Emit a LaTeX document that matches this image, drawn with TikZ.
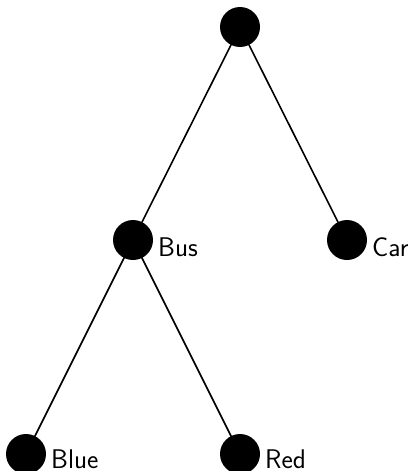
\documentclass[tikz,border=0pt]{standalone}
\usepackage{fontspec}
\usetikzlibrary{calc}
\begin{document}
\begin{tikzpicture}[x=1pt,y=-1pt,
  dot/.style={circle,fill=black,minimum size=40pt,inner sep=0pt},
  edge/.style={line width=1.6pt},
  lbl/.style={anchor=base west,inner sep=0pt,font=\fontsize{27}{32}\selectfont\sffamily}]
\useasboundingbox (0,0) rectangle (412,471);
\coordinate (r) at (240,27);
\coordinate (bus) at (133,240);
\coordinate (car) at (347,240);
\coordinate (blue) at (26,454);
\coordinate (red) at (240,454);
\draw[edge] (r) -- (bus);
\draw[edge] (r) -- (car);
\draw[edge] (bus) -- (blue);
\draw[edge] (bus) -- (red);
\node[dot] (nr) at (r) {};
\node[dot] (nbus) at (bus) {};
\node[dot] (ncar) at (car) {};
\node[dot] (nblue) at (blue) {};
\node[dot] (nred) at (red) {};
\node[lbl] (lbus) at ($(bus)+(25,16)$) {Bus};
\node[lbl] (lcar) at ($(car)+(25,16)$) {Car};
\node[lbl] (lblue) at ($(blue)+(25,14)$) {Blue};
\node[lbl] (lred) at ($(red)+(25,14)$) {Red};
\end{tikzpicture}
\end{document}
